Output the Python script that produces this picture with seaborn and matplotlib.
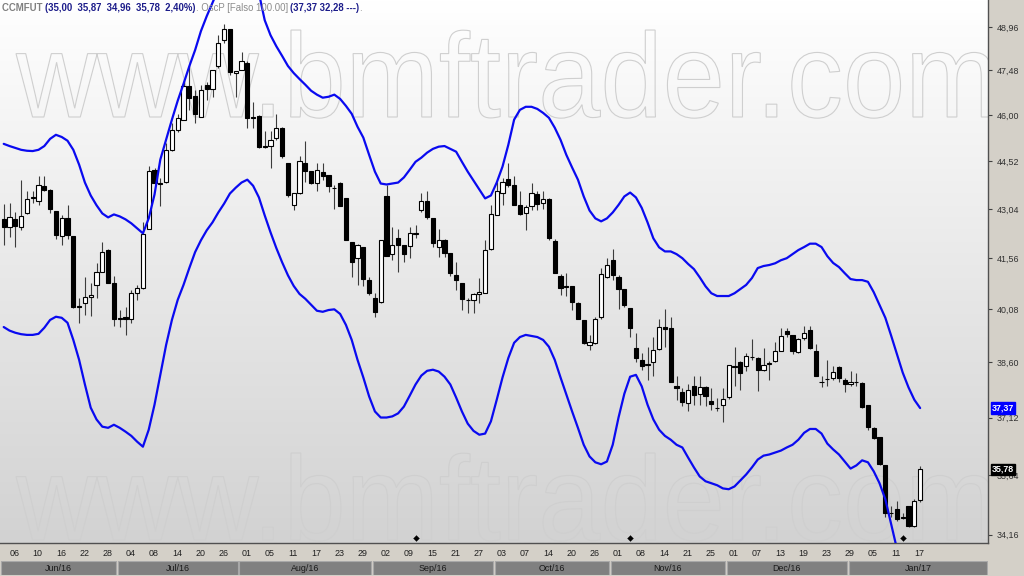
import numpy as np
import pandas as pd
import matplotlib
matplotlib.use("Agg")
import matplotlib.pyplot as plt
import seaborn as sns
from matplotlib.colors import LinearSegmentedColormap
from matplotlib.patches import Rectangle, PathPatch
from matplotlib.textpath import TextPath
from matplotlib.font_manager import FontProperties
from matplotlib.transforms import Affine2D, IdentityTransform
from matplotlib.ticker import NullLocator, FixedLocator

# bar index 0 = 06/Jun/2016 (trading days), first bar -1 = 03/Jun, last = 18/Jan/2017
first_bar = -1

opens = [42.72, 42.48, 42.72, 42.48, 42.91, 43.36, 43.28, 43.73, 43.63, 42.96,
         42.21, 42.76, 42.21, 40.18, 40.27, 40.44, 40.78, 41.15, 41.80, 40.84,
         39.83, 39.87, 39.82, 40.54, 40.68, 42.44, 44.23, 43.83, 43.88, 44.88,
         45.52, 45.85, 46.95, 46.61, 45.94, 47.00, 46.86, 47.63, 48.51, 48.91,
         47.40, 47.48, 47.73, 45.95, 45.97, 45.00, 45.01, 45.25, 45.58, 44.47,
         43.16, 43.53, 44.47, 44.20, 43.84, 44.18, 44.10, 43.69, 43.84, 43.36,
         42.04, 41.56, 41.89, 40.92, 40.41, 40.30, 43.43, 41.68, 42.16, 41.96,
         41.91, 42.28, 42.99, 43.28, 42.76, 41.89, 42.11, 41.70, 41.06, 40.84,
         40.36, 40.35, 40.53, 40.56, 41.82, 42.85, 43.53, 43.96, 43.76, 43.16,
         42.91, 43.12, 43.50, 43.23, 43.33, 42.07, 41.04, 40.74, 40.74, 40.25,
         39.78, 39.08, 39.14, 39.87, 41.02, 41.50, 41.02, 40.65, 40.12, 38.99,
         38.67, 38.52, 38.60, 38.96, 39.59, 39.55, 37.97, 37.80, 37.51, 37.95,
         37.75, 37.93, 37.57, 37.38, 37.46, 37.66, 38.50, 38.61, 38.50, 38.74,
         38.72, 38.40, 38.55, 38.63, 38.92, 39.48, 39.36, 38.89, 39.28, 39.50,
         38.91, 38.08, 38.15, 38.17, 38.47, 38.13, 38.00, 38.07, 38.05, 37.44,
         36.84, 36.61, 35.88, 34.68, 34.80, 34.58, 34.86, 34.38, 35.00]

highs = [43.20, 43.22, 42.94, 43.94, 43.58, 43.58, 44.04, 44.04, 43.66, 42.96,
         42.84, 43.16, 42.21, 40.40, 41.02, 40.84, 41.42, 42.04, 41.83, 41.04,
         40.06, 40.15, 40.63, 40.78, 42.64, 44.36, 44.30, 44.00, 45.10, 45.75,
         46.05, 47.20, 47.60, 46.83, 47.00, 47.08, 47.48, 48.68, 49.06, 48.91,
         47.46, 48.12, 47.80, 46.44, 46.00, 45.48, 45.48, 46.05, 45.60, 44.47,
         43.53, 44.67, 45.15, 44.22, 44.47, 44.47, 44.10, 43.78, 43.88, 43.36,
         42.04, 41.99, 41.89, 41.00, 40.54, 42.11, 43.78, 42.49, 42.44, 41.96,
         42.49, 42.54, 43.53, 43.58, 42.76, 42.44, 42.12, 41.70, 41.45, 40.84,
         40.40, 40.54, 40.97, 42.09, 43.16, 43.88, 44.00, 44.47, 44.04, 43.58,
         43.16, 43.84, 43.58, 43.58, 43.38, 42.12, 41.11, 41.13, 40.74, 40.30,
         39.78, 39.36, 39.87, 41.26, 41.56, 41.83, 41.06, 40.65, 40.12, 39.40,
         38.87, 39.03, 39.31, 39.82, 40.10, 39.85, 38.22, 37.91, 38.00, 38.22,
         38.22, 37.95, 37.91, 37.63, 37.91, 38.54, 39.03, 38.63, 38.87, 39.24,
         38.74, 38.99, 38.63, 39.17, 39.55, 39.55, 39.36, 39.28, 39.60, 39.60,
         39.10, 38.22, 38.67, 38.50, 38.50, 38.17, 38.37, 38.31, 38.06, 37.44,
         36.86, 36.61, 35.88, 34.86, 34.98, 34.70, 34.86, 35.03, 35.87]

lows = [41.94, 42.18, 41.88, 42.40, 42.88, 43.22, 43.16, 43.58, 42.91, 42.12,
        41.94, 42.12, 40.12, 39.70, 39.92, 39.90, 40.41, 41.15, 40.84, 39.61,
        39.59, 39.36, 39.70, 40.35, 40.66, 42.44, 43.80, 43.14, 43.85, 44.85,
        45.45, 45.85, 46.17, 45.75, 45.94, 46.50, 46.60, 47.56, 48.41, 47.31,
        46.60, 47.48, 45.58, 45.58, 44.93, 44.93, 44.31, 45.20, 44.62, 43.40,
        43.00, 43.50, 43.88, 43.80, 43.58, 43.94, 43.55, 43.05, 43.14, 42.09,
        41.00, 40.78, 40.75, 40.49, 39.87, 40.27, 41.62, 41.50, 41.16, 41.45,
        41.56, 42.15, 42.94, 42.74, 41.89, 41.60, 41.60, 41.05, 40.63, 40.06,
        39.97, 39.97, 40.25, 40.54, 41.80, 42.85, 43.16, 43.70, 43.16, 42.86,
        42.39, 43.00, 42.99, 43.04, 42.09, 41.12, 40.49, 40.45, 40.06, 39.82,
        39.12, 38.94, 39.12, 39.82, 40.97, 40.92, 40.10, 40.15, 39.30, 38.62,
        38.40, 38.13, 38.22, 38.94, 39.03, 38.08, 37.59, 37.42, 37.29, 37.46,
        37.46, 37.42, 37.33, 37.29, 37.00, 37.61, 37.95, 37.86, 38.36, 38.67,
        37.82, 38.36, 38.13, 38.60, 38.90, 39.31, 38.84, 38.87, 39.22, 38.96,
        38.22, 37.93, 37.95, 38.13, 38.08, 37.80, 37.95, 37.95, 37.38, 36.80,
        36.57, 35.88, 34.58, 34.58, 34.50, 34.54, 34.35, 34.34, 34.96]

closes = [42.48, 42.78, 42.52, 42.82, 43.33, 43.40, 43.78, 43.63, 43.04, 42.24,
          42.76, 42.24, 40.15, 40.15, 40.44, 40.49, 41.15, 41.75, 40.84, 39.82,
          39.82, 39.82, 40.54, 40.68, 42.29, 44.20, 43.84, 43.80, 44.88, 45.52,
          45.90, 46.95, 46.55, 46.05, 46.81, 46.86, 47.48, 48.41, 48.88, 47.42,
          47.46, 47.80, 45.90, 45.92, 44.96, 44.98, 45.18, 45.58, 44.67, 43.48,
          43.53, 44.52, 44.20, 43.84, 44.23, 44.05, 43.74, 43.67, 43.14, 42.09,
          41.45, 41.94, 40.96, 40.54, 40.01, 42.11, 41.62, 41.94, 41.96, 41.68,
          42.31, 42.30, 43.28, 42.80, 42.01, 42.11, 41.70, 41.14, 40.92, 40.38,
          40.35, 40.52, 40.58, 41.80, 42.88, 43.58, 43.86, 43.76, 43.16, 42.88,
          43.11, 43.53, 43.20, 43.33, 42.17, 41.13, 40.68, 40.73, 40.30, 39.82,
          39.13, 39.17, 39.82, 41.10, 41.35, 41.06, 40.65, 40.21, 39.55, 38.73,
          38.50, 38.56, 38.94, 39.59, 39.53, 38.08, 37.91, 37.52, 37.86, 37.72,
          37.93, 37.68, 37.49, 37.37, 37.61, 38.54, 38.48, 38.31, 38.78, 38.75,
          38.40, 38.54, 38.58, 38.91, 39.33, 39.38, 38.92, 39.24, 39.40, 38.99,
          38.22, 38.07, 38.14, 38.35, 38.17, 38.00, 38.08, 38.08, 37.40, 36.87,
          36.59, 35.91, 34.70, 34.70, 34.54, 34.57, 34.38, 34.98, 35.78]

band_upper = [45.07, 45.00, 44.94, 44.88, 44.85, 44.84, 44.88, 45.00, 45.23, 45.36,
              45.29, 45.17, 44.88, 44.41, 43.85, 43.45, 43.15, 42.90, 42.78, 42.87,
              42.81, 42.72, 42.60, 42.45, 42.30, 42.75, 43.48, 44.57, 45.20, 45.85,
              46.47, 47.03, 47.62, 48.17, 48.82, 49.34, 49.81, 50.30, 50.65, 50.90,
              51.00, 51.00, 50.85, 50.60, 50.15, 49.20, 48.68, 48.30, 47.97, 47.63,
              47.39, 47.19, 47.00, 46.80, 46.67, 46.57, 46.60, 46.67, 46.53, 46.30,
              46.04, 45.62, 45.27, 44.72, 44.19, 43.82, 43.79, 43.82, 43.85, 44.01,
              44.25, 44.50, 44.63, 44.79, 44.91, 44.98, 45.00, 44.91, 44.82, 44.50,
              44.19, 43.91, 43.63, 43.36, 43.45, 43.85, 44.35, 45.04, 45.85, 46.17,
              46.27, 46.27, 46.20, 46.07, 45.91, 45.59, 45.20, 44.72, 44.32, 43.94,
              43.42, 42.99, 42.75, 42.66, 42.75, 42.93, 43.16, 43.42, 43.54, 43.39,
              43.07, 42.63, 42.15, 41.88, 41.76, 41.76, 41.68, 41.56, 41.39, 41.24,
              41.00, 40.74, 40.54, 40.46, 40.46, 40.46, 40.54, 40.66, 40.78, 40.98,
              41.27, 41.33, 41.36, 41.41, 41.50, 41.56, 41.68, 41.80, 41.89, 41.99,
              41.99, 41.89, 41.62, 41.42, 41.30, 41.12, 40.95, 40.92, 40.92, 40.87,
              40.57, 40.20, 39.84, 39.34, 38.83, 38.32, 37.92, 37.59, 37.37]

band_lower = [39.58, 39.48, 39.42, 39.38, 39.36, 39.36, 39.39, 39.56, 39.78, 39.87,
              39.84, 39.70, 39.22, 38.67, 38.00, 37.38, 37.07, 36.88, 36.85, 36.93,
              36.85, 36.75, 36.64, 36.49, 36.36, 36.80, 37.46, 38.26, 39.08, 39.78,
              40.35, 40.78, 41.27, 41.74, 42.09, 42.39, 42.63, 42.93, 43.20, 43.51,
              43.69, 43.85, 43.94, 43.75, 43.39, 42.84, 42.33, 41.86, 41.44, 41.06,
              40.75, 40.52, 40.38, 40.21, 40.04, 40.01, 40.06, 40.08, 39.95, 39.64,
              39.22, 38.67, 38.19, 37.68, 37.28, 37.12, 37.12, 37.15, 37.23, 37.41,
              37.70, 38.00, 38.24, 38.37, 38.40, 38.35, 38.21, 38.00, 37.65, 37.28,
              36.96, 36.77, 36.67, 36.70, 37.02, 37.59, 38.19, 38.72, 39.14, 39.30,
              39.36, 39.33, 39.30, 39.22, 39.03, 38.67, 38.19, 37.73, 37.28, 36.85,
              36.41, 36.11, 35.96, 35.91, 35.98, 36.41, 37.12, 37.75, 38.21, 38.26,
              37.95, 37.46, 37.07, 36.80, 36.64, 36.54, 36.41, 36.34, 36.08, 35.83,
              35.60, 35.48, 35.43, 35.38, 35.30, 35.28, 35.35, 35.50, 35.65, 35.83,
              36.03, 36.13, 36.16, 36.21, 36.26, 36.34, 36.41, 36.54, 36.72, 36.82,
              36.82, 36.70, 36.44, 36.29, 36.16, 35.98, 35.80, 35.88, 36.01, 35.96,
              35.73, 35.43, 35.03, 34.42, 33.82, 33.35, 32.95, 32.60, 32.28]

signal_bars = [70, 107, 154]
signal_price = 34.09

day_labels = ["06", "10", "16", "22", "28", "04", "08", "14", "20", "26",
              "01", "05", "11", "17", "23", "29", "02", "09", "15", "21",
              "27", "03", "07", "14", "20", "26", "01", "08", "14", "21",
              "25", "01", "07", "13", "19", "23", "29", "05", "11", "17"]
month_labels = ["Jun/16", "Jul/16", "Aug/16", "Sep/16", "Oct/16", "Nov/16", "Dec/16", "Jan/17"]
month_first_bar = [19, 40, 63, 84, 104, 124, 145]   # Jul .. Jan
price_ticks = [48.96, 47.48, 46.00, 44.52, 43.04, 41.56, 40.08, 38.60, 37.12, 35.64, 34.16]

title_parts = [("CCMFUT ", "#808080", "bold"),
               ("(35,00  35,87  34,96  35,78  2,40%)", "#1c1c8a", "bold"),
               (". OscP [Falso 100.00] ", "#8c8c8c", "normal"),
               ("(37,37 32,28 ---)", "#1c1c8a", "bold"),
               (".", "#8c8c8c", "normal")]

# ---------------------------------------------------------------
sns.set_style("white")
plt.rcParams['font.family'] = ['Liberation Sans', 'DejaVu Sans']

W, H = 1024, 576
fig = plt.figure(figsize=(W / 100, H / 100), dpi=100, facecolor="#d4d0c8")
ax = fig.add_axes([0, 33 / H, 988 / W, 543 / H])

bars = np.arange(first_bar, first_bar + len(opens))
df = pd.DataFrame({"bar": bars, "open": opens, "high": highs, "low": lows, "close": closes,
                   "upper": band_upper, "lower": band_lower})

xmin, xmax = -1.64, 168.7
ymin, ymax = 33.96, 49.91

# background gradient
bg = LinearSegmentedColormap.from_list("bg", ["#ffffff", "#d2d2d2"])
ax.imshow(np.linspace(0, 1, 256).reshape(-1, 1), cmap=bg, aspect="auto",
          extent=(0, 1, 0, 1), transform=ax.transAxes, zorder=0)

# watermark (outlined text)
wm = TextPath((0, 0), "www.bmftrader.com", size=1, prop=FontProperties(family="Liberation Sans"))
ext = wm.get_extents()
for base_y in (117, 540):
    tr = Affine2D().translate(-ext.x0, 0).scale(975 / ext.width, 120).translate(16, H - base_y)
    patch = PathPatch(tr.transform_path(wm), facecolor="none", edgecolor="#cfcfcf",
                      lw=0.8, transform=IdentityTransform(), zorder=1)
    ax.add_artist(patch)

# candles
up = df["close"] >= df["open"]
body_lo = np.minimum(df["open"], df["close"])
body_h = np.maximum((df["close"] - df["open"]).abs(), 0.004)
ax.vlines(df["bar"], df["low"], df["high"], color="#3c3c3c", lw=0.8, zorder=3)
ax.bar(df["bar"][up], body_h[up], bottom=body_lo[up], width=0.74,
       color="white", edgecolor="black", lw=0.8, zorder=4)
ax.bar(df["bar"][~up], body_h[~up], bottom=body_lo[~up], width=0.74,
       color="black", edgecolor="black", lw=0.8, zorder=4)

# bands
sns.lineplot(data=df, x="bar", y="upper", color="#0a0af0", lw=1.6, estimator=None, ax=ax, zorder=5)
sns.lineplot(data=df, x="bar", y="lower", color="#0a0af0", lw=1.6, estimator=None, ax=ax, zorder=5)

# signal markers
sns.scatterplot(x=signal_bars, y=[signal_price] * len(signal_bars), marker="D", s=9,
                color="black", edgecolor="black", ax=ax, zorder=6)

ax.set_yscale("log")
ax.set_xlim(xmin, xmax)
ax.set_ylim(ymin, ymax)
ax.set_xlabel("")
ax.set_ylabel("")

# y axis on the right
ax.yaxis.tick_right()
ax.yaxis.set_major_locator(FixedLocator(price_ticks))
ax.yaxis.set_minor_locator(NullLocator())
ax.set_yticklabels([f"{v:.2f}".replace(".", ",") for v in price_ticks])
ax.tick_params(axis="y", which="major", direction="out", length=3, width=0.8,
               color="#404040", labelsize=6.4, labelcolor="#303030", pad=3,
               left=False, right=True, labelleft=False, labelright=True)

# x axis
ax.set_xticks(np.arange(0, 4 * len(day_labels), 4))
ax.set_xticklabels(day_labels, ha="left")
ax.xaxis.set_minor_locator(NullLocator())
ax.tick_params(axis="x", direction="out", length=3, width=0.8, color="#404040",
               labelsize=6.4, labelcolor="#202020", pad=1.5)

for side in ("top", "left"):
    ax.spines[side].set_visible(False)
ax.spines["right"].set_color("#505050")
ax.spines["bottom"].set_color("#505050")
ax.spines["right"].set_linewidth(1.0)
ax.spines["bottom"].set_linewidth(1.0)

# value tags on the price axis
for val, bgc in ((band_upper[-1], "#0000ff"), (closes[-1], "#000000")):
    ax.annotate(f"{val:.2f}".replace(".", ","), xy=(1, val), xycoords=("axes fraction", "data"),
                xytext=(3, 0), textcoords="offset points", ha="left", va="center",
                fontsize=6.4, fontweight="bold", color="white", annotation_clip=False,
                bbox=dict(boxstyle="square,pad=0.12", fc=bgc, ec=bgc), zorder=10)

# month bar
axm = fig.add_axes([0, 1 / H, 988 / W, 14 / H])
axm.set_xlim(xmin, xmax)
axm.set_ylim(0, 1)
axm.axis("off")
edges = [xmin] + [b - 0.5 for b in month_first_bar] + [xmax]
for k, name in enumerate(month_labels):
    axm.add_patch(Rectangle((edges[k] + 0.15, 0.0), edges[k + 1] - edges[k] - 0.3, 1.0,
                            facecolor="#808080", edgecolor="#a8a8a8", lw=0.8))
    axm.text((edges[k] + edges[k + 1]) / 2, 0.48, name, ha="center", va="center",
             fontsize=6.4, color="#1a1a1a")

# title line, pieces chained left to right
prev = fig.text(2 / W, 1 - 8 / H, title_parts[0][0], ha="left", va="center", fontsize=6.9,
                color=title_parts[0][1], fontweight=title_parts[0][2], zorder=20)
for txt, col, wt in title_parts[1:]:
    prev = ax.annotate(txt, xy=(1, 0.5), xycoords=prev, ha="left", va="center", fontsize=6.9,
                       color=col, fontweight=wt, annotation_clip=False, zorder=20)

fig.savefig("out.png", dpi=100, facecolor=fig.get_facecolor())
